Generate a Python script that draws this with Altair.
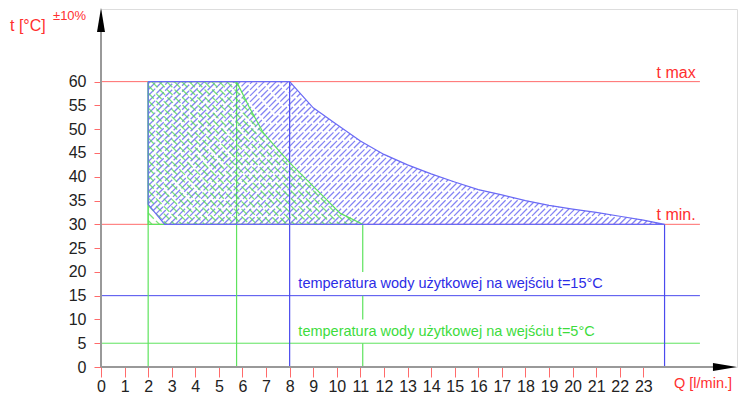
import numpy as np
import pandas as pd
import altair as alt

# ---------------- data ----------------
x_ticks = list(range(0, 24))
y_ticks = list(range(0, 61, 5))

t_max = 60
t_min = 30
t_in_blue = 15
t_in_green = 5

# blue region (inlet 15°C)
blue_curve_q = [8, 9, 10, 11, 12, 13, 14, 15, 16, 17, 18, 19, 20, 21, 22, 23, 23.9]
blue_curve_t = [60, 54.5, 51, 47.5, 44.7, 42.5, 40.6, 38.9, 37.3, 36.2, 35.0, 34.0, 33.2, 32.5, 31.7, 30.9, 30]
blue_left_q = [2.7, 2, 2]
blue_left_t = [30, 34.2, 60]

# green region (inlet 5°C)
green_curve_q = [5.75, 6.3, 6.9, 7.6, 8.03, 9.16, 10.15, 11.1]
green_curve_t = [60, 54.5, 49.1, 45.2, 42.8, 37.2, 32.3, 30]
green_left_q = [2, 2]
green_left_t = [30, 60]

# vertical guide lines
blue_v_q = [8, 23.9]
blue_v_t0 = [0, 0]
blue_v_t1 = [60, 30]
green_v_q = [2, 5.75, 11.1, 11.1, 11.1]
green_v_t0 = [0, 0, 0, 10, 20]
green_v_t1 = [60, 60, 5, 15, 30]

label_blue = "temperatura wody użytkowej na wejściu t=15°C"
label_green = "temperatura wody użytkowej na wejściu t=5°C"

# ---------------- geometry / style ----------------
W, H = 636, 358
SX, SY = 23.58, 4.756
X_MAX, Y_MAX = W / SX, H / SY
LINE_END = 25.4
FONT = "Liberation Sans"

RED = "#ff6b6b"
RED_T = "#ff2f2f"
BLUE = "#4a4aee"
BLUE_H = "#5b5bf0"
GREEN = "#5ee35e"
GREEN_H = "#52dc52"

blue_poly_q = [2] + blue_curve_q + blue_left_q
blue_poly_t = [60] + blue_curve_t + blue_left_t
green_poly_q = [2] + green_curve_q + green_left_q
green_poly_t = [60] + green_curve_t + green_left_t


def hatch(qs, ts, direction, step_px):
    px = np.array(qs) * SX
    py = np.array(ts) * SY
    if direction == "/":
        u = py - px
        v = px + py
    else:
        u = py + px
        v = px - py
    segs = []
    c = u.min() + step_px / 2
    n = len(px)
    while c < u.max():
        vs = []
        for i in range(n - 1):
            u1, u2, v1, v2 = u[i], u[i + 1], v[i], v[i + 1]
            if (u1 <= c < u2) or (u2 <= c < u1):
                f = (c - u1) / (u2 - u1)
                vs.append(v1 + f * (v2 - v1))
        vs.sort()
        for a, b in zip(vs[0::2], vs[1::2]):
            if direction == "/":
                x1, y1 = (a - c) / 2, (a + c) / 2
                x2, y2 = (b - c) / 2, (b + c) / 2
            else:
                x1, y1 = (c + a) / 2, (c - a) / 2
                x2, y2 = (c + b) / 2, (c - b) / 2
            segs.append({"x": x1 / SX, "y": y1 / SY, "x2": x2 / SX, "y2": y2 / SY})
        c += step_px
    return pd.DataFrame(segs)


xs = alt.Scale(domain=[0, X_MAX], nice=False, zero=False)
ys = alt.Scale(domain=[0, Y_MAX], nice=False, zero=False)
xaxis = alt.Axis(values=x_ticks, title=None, grid=False, domain=False,
                 tickColor=RED, tickSize=10, labelFontSize=16, labelColor="#222",
                 labelFont=FONT, labelPadding=1, labelFlush=False, labelOverlap=False)
yaxis = alt.Axis(values=y_ticks, title=None, grid=False, domain=False,
                 tickColor=RED, tickSize=7, labelFontSize=16, labelColor="#222",
                 labelFont=FONT, labelPadding=8, labelOverlap=False)


def X(f):
    return alt.X(f, type="quantitative", scale=xs, axis=xaxis)


def Y(f):
    return alt.Y(f, type="quantitative", scale=ys, axis=yaxis)


def hlines(vals, color, width=1):
    df = pd.DataFrame({"y": vals, "x": [0] * len(vals), "x2": [LINE_END] * len(vals)})
    return alt.Chart(df).mark_rule(color=color, strokeWidth=width).encode(
        x=X("x"), x2="x2", y=Y("y"))


def vlines(q, t0, t1, color):
    df = pd.DataFrame({"x": q, "y": t0, "y2": t1})
    return alt.Chart(df).mark_rule(color=color, strokeWidth=1.2).encode(
        x=X("x"), y=Y("y"), y2="y2")


def outline(qs, ts, color):
    df = pd.DataFrame({"x": qs, "y": ts, "o": list(range(len(qs)))})
    return alt.Chart(df).mark_line(color=color, strokeWidth=1.2).encode(
        x=X("x"), y=Y("y"), order="o:Q")


def hatch_layer(df, color, dash, width, opacity):
    return alt.Chart(df).mark_rule(color=color, strokeWidth=width, strokeDash=dash,
                                   opacity=opacity).encode(
        x=X("x"), y=Y("y"), x2="x2", y2="y2")


blue_h = hatch(blue_poly_q, blue_poly_t, "/", 6.0)
green_h = hatch(green_poly_q, green_poly_t, "\\", 7.5)

layers = [
    hlines([t_max, t_min], RED),
    hlines([t_in_blue], BLUE),
    hlines([t_in_green], GREEN),
    vlines(green_v_q, green_v_t0, green_v_t1, GREEN),
    vlines(blue_v_q, blue_v_t0, blue_v_t1, BLUE),
    hatch_layer(blue_h, BLUE_H, [10, 2], 1.3, 0.75),
    hatch_layer(green_h, GREEN_H, [8, 3], 1.3, 0.75),
    outline(green_poly_q, green_poly_t, GREEN),
    outline(blue_poly_q, blue_poly_t, "#6a6af5"),
]

# axis lines and arrows
axis_df = pd.DataFrame({"x": [0, 0], "y": [0, 0], "x2": [26.0, 0], "y2": [0, 72]})
layers.append(alt.Chart(axis_df).mark_rule(color="#999", strokeWidth=2).encode(
    x=X("x"), y=Y("y"), x2="x2", y2="y2"))
arrow_x = pd.DataFrame({"x": [26.46], "y": [0]})
arrow_y = pd.DataFrame({"x": [0], "y": [72.96]})
layers.append(alt.Chart(arrow_x).mark_point(
    shape="M -1 -0.333 L 1 0 L -1 0.333 Z", filled=True, size=576, color="black",
    opacity=1, strokeWidth=0).encode(x=X("x"), y=Y("y")))
layers.append(alt.Chart(arrow_y).mark_point(
    shape="M -0.333 1 L 0 -1 L 0.333 1 Z", filled=True, size=576, color="black",
    opacity=1, strokeWidth=0).encode(x=X("x"), y=Y("y")))


# texts
def text(df, color, size, align="left", baseline="middle", dy=0):
    return alt.Chart(df).mark_text(color=color, fontSize=size, font=FONT, align=align,
                                   baseline=baseline, dy=dy).encode(
        x=X("x"), y=Y("y"), text="t:N")


layers.append(text(pd.DataFrame({"x": [8.37], "y": [17.4], "t": [label_blue]}), "#2c2ce6", 14.5))
layers.append(text(pd.DataFrame({"x": [8.37], "y": [7.4], "t": [label_green]}), "#3ddc3d", 14.5))
layers.append(text(pd.DataFrame({"x": [25.22, 25.22], "y": [t_max, t_min], "t": ["t max", "t min."]}),
                   RED_T, 16, align="right", baseline="alphabetic", dy=-4))
layers.append(text(pd.DataFrame({"x": [24.3], "y": [-3.6], "t": ["Q [l/min.]"]}), RED_T, 14.5))

layers.append(alt.Chart(pd.DataFrame({"t": ["t [°C]"]})).mark_text(
    color=RED_T, fontSize=16, font=FONT, align="left", baseline="alphabetic").encode(
    x=alt.value(-91), y=alt.value(22), text="t:N"))
layers.append(alt.Chart(pd.DataFrame({"t": ["±10%"]})).mark_text(
    color=RED_T, fontSize=13, font=FONT, align="left", baseline="alphabetic").encode(
    x=alt.value(-48), y=alt.value(11), text="t:N"))

chart = alt.layer(*layers).properties(
    width=W, height=H,
    padding={"left": 93, "top": 1, "right": 1, "bottom": 27},
    autosize="none",
).configure_view(stroke=None).configure(background="white")

chart.save("out.html", embed_options={"renderer": "svg", "actions": False})
